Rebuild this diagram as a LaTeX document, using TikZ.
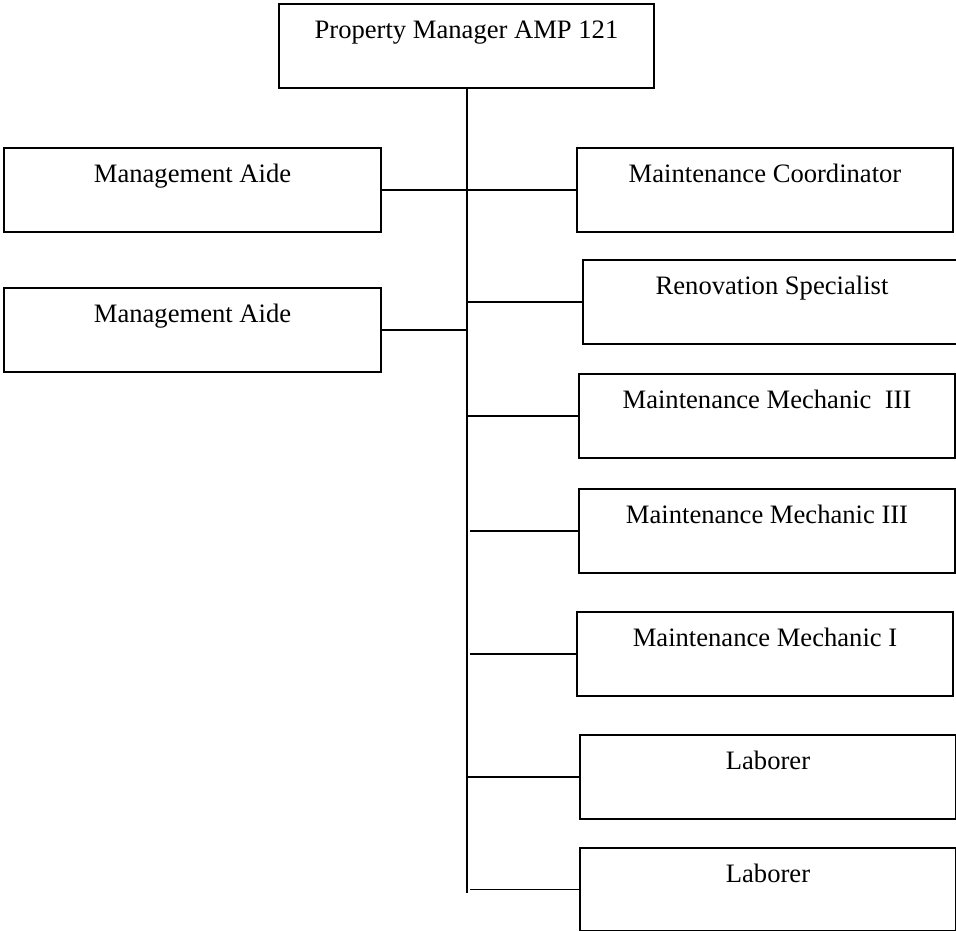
\documentclass[tikz,border=0pt]{standalone}
\usepackage{fontspec}
\setmainfont{Liberation Serif}
\begin{document}
\begin{tikzpicture}[x=1pt,y=-1pt,
  post/.style={draw, line width=2pt, inner sep=0pt, anchor=north west,
    text height=34.5pt, text depth=49.5pt,
    font=\fontsize{26.6}{32}\selectfont},
  link/.style={line width=1.6pt},
  boldlink/.style={line width=2.3pt}]
\useasboundingbox (0,0) rectangle (956,931);
\clip (0,0) rectangle (956,931);

% top position
\node[post, minimum width=375pt] (pm) at (278,3) {Property Manager AMP 121};

% management aides (left column)
\node[post, minimum width=377pt] (ma1) at (3,147) {Management Aide};
\node[post, minimum width=377pt] (ma2) at (3,287) {Management Aide};

% maintenance staff (right column)
\node[post, minimum width=376pt] (mc)   at (576,147) {Maintenance Coordinator};
\node[post, minimum width=378pt] (rs)   at (582,259) {Renovation Specialist};
\node[post, minimum width=376pt] (mm3a) at (578,373) {Maintenance Mechanic~~III};
\node[post, minimum width=376pt] (mm3b) at (578,488) {Maintenance Mechanic III};
\node[post, minimum width=376pt] (mm1)  at (576,611) {Maintenance Mechanic I};
\node[post, minimum width=376pt] (lab1) at (579,734) {Laborer};
\node[post, minimum width=376pt, text depth=48.5pt] (lab2) at (579,847) {Laborer};

% reporting lines
\coordinate (trunkend) at (467,893);
\draw[link] (pm.south -| trunkend) -- (trunkend);
\draw[link] (ma1) -- (mc);
\draw[link] (ma2.east) -- (ma2.east -| trunkend);
\draw[link] (rs.west) -- (rs.west -| trunkend);
\draw[boldlink] (mm3a.west) -- (mm3a.west -| trunkend);
\draw[boldlink] (mm3b.west) -- ([xshift=3pt]mm3b.west -| trunkend);
\draw[link] (mm1.west) -- ([xshift=3pt]mm1.west -| trunkend);
\draw[link] (lab1.west) -- (lab1.west -| trunkend);
\draw[link] (lab2.west) -- ([xshift=3pt]lab2.west -| trunkend);
\end{tikzpicture}
\end{document}
